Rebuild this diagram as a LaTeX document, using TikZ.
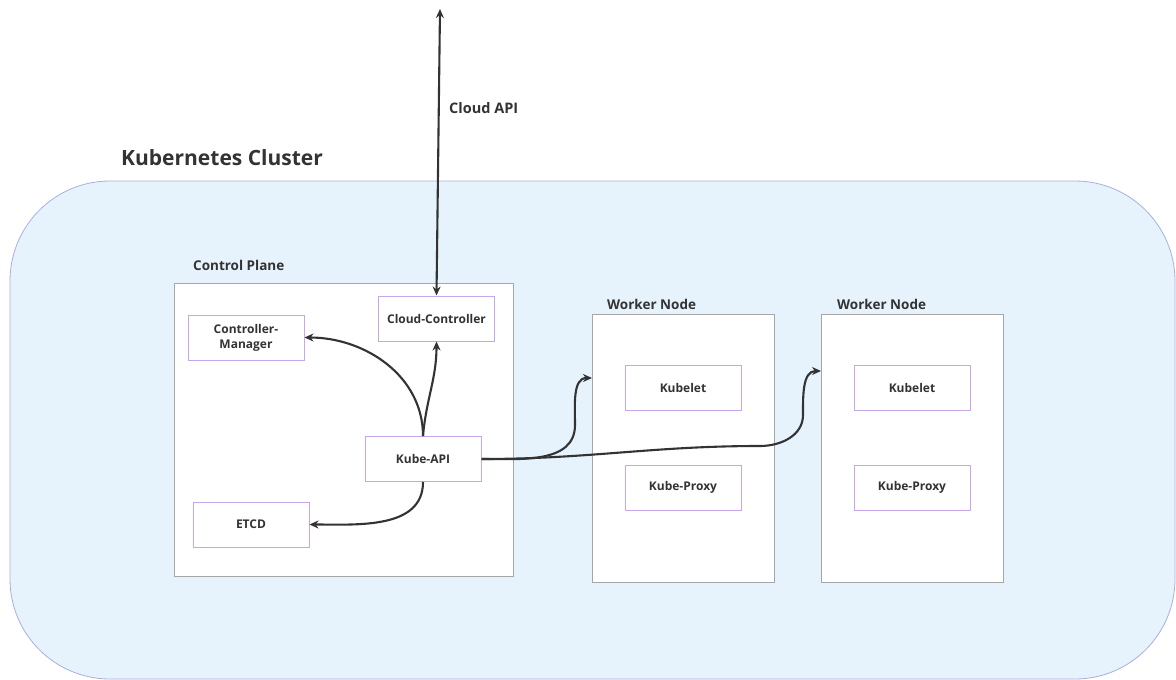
\documentclass[tikz,border=0pt]{standalone}
\usepackage{fontspec}
\setmainfont{Open Sans}
\usetikzlibrary{arrows.meta,positioning}
\definecolor{clusterfill}{HTML}{E6F3FC}
\definecolor{clusterline}{HTML}{A9AFE2}
\definecolor{planeline}{HTML}{A6A6A6}
\definecolor{compline}{HTML}{C7A6EA}
\definecolor{ink}{HTML}{333333}
\begin{document}
\begin{tikzpicture}[
    x=1pt, y=-1pt,
    cluster/.style={draw=clusterline, fill=clusterfill, line width=0.8pt, rounded corners=100pt},
    plane/.style={rectangle, draw=planeline, fill=white, line width=1pt, anchor=north west, inner sep=0pt},
    comp/.style={rectangle, draw=compline, fill=white, line width=1pt, minimum width=116pt, minimum height=45pt, align=center, font=\fontsize{12}{15}\selectfont\bfseries, text=ink},
    lbl/.style={font=\fontsize{13.5}{16}\selectfont\bfseries, text=ink, anchor=west, inner sep=0pt},
    arrow/.style={-{Stealth[length=9pt,width=8pt]}, line width=2.1pt, ink},
    both/.style={{Stealth[length=9pt,width=8pt]}-{Stealth[length=9pt,width=8pt]}, line width=2.1pt, ink}
  ]
  \useasboundingbox (0,0) rectangle (1176,680);

  % Cluster background
  \draw[cluster] (10,181) rectangle (1175,679);
  \node[lbl, font=\fontsize{21}{25}\selectfont\bfseries] (title) at (121,158) {Kubernetes Cluster};

  % Control plane
  \node[plane, minimum width=339pt, minimum height=293pt] (cp) at (174,283) {};
  \node[lbl] (cplbl) at (193,265) {Control Plane};
  \node[comp] (cm) at (246,337.5) {Controller-\\Manager};
  \node[comp] (cc) at (436.5,318.5) {Cloud-Controller};
  \node[comp] (kapi) at (423,459) {Kube-API};
  \node[comp] (etcd) at (251,524.5) {ETCD};

  % Worker nodes
  \node[plane, minimum width=182pt, minimum height=268pt] (wn1) at (592,314) {};
  \node[plane, minimum width=182pt, minimum height=268pt] (wn2) at (821,314) {};
  \node[lbl] (wn1lbl) at (607,304) {Worker Node};
  \node[lbl] (wn2lbl) at (837,304) {Worker Node};
  \node[comp] (kl1) at (683,387.5) {Kubelet};
  \node[comp] (kp1) at (683,487.5) {Kube-Proxy};
  \node[comp] (kl2) at (912,387.5) {Kubelet};
  \node[comp] (kp2) at (912,487.5) {Kube-Proxy};

  % Cloud API
  \coordinate (cloud) at (440,9);
  \draw[both] (cc.north) -- (cloud);
  \node[lbl, font=\fontsize{14.5}{17}\selectfont\bfseries] (cloudlbl) at (449,108) {Cloud API};

  % Kube-API connections
  \draw[arrow] (kapi.north) to[out=90,in=0] (cm.east);
  \draw[arrow] (kapi.north) to[out=85,in=-90] (cc.south);
  \draw[arrow] (kapi.south) to[out=-90,in=0] (etcd.east);
  \draw[arrow] (kapi.east) to[out=0,in=-90] (575,425) to[out=90,in=180] ([yshift=-64pt]wn1.north west);
  \draw[arrow] (kapi.east) to[out=0,in=180] (760,446) to[out=0,in=-90] (803,415) to[out=90,in=180] ([yshift=-57pt]wn2.north west);

\end{tikzpicture}
\end{document}
